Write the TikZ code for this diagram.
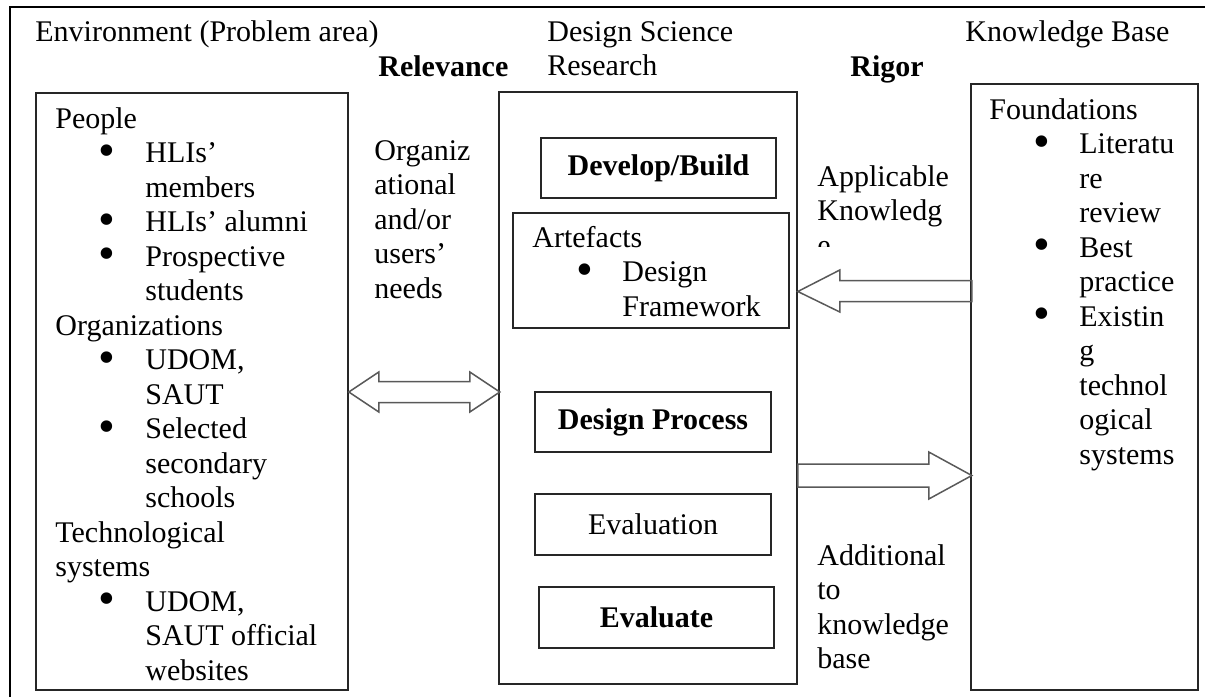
\documentclass[tikz,border=0pt]{standalone}
\usepackage{fontspec}
\usepackage{graphicx}
\setmainfont{Liberation Serif}
\usetikzlibrary{fit}
\newcommand{\itm}[1]{\hspace*{26pt}\makebox[0pt]{\smash{\raisebox{-1.8pt}{\scalebox{1.6}{\textbullet}}}}\hspace*{19pt}#1}
\newcommand{\cnt}[1]{\hspace*{45pt}#1}
\newcommand{\lines}[1]{\begin{tabular}[t]{@{}l@{}}#1\end{tabular}}
\tikzset{
box/.style={draw=black!85, line width=.8pt, inner sep=0pt},
blk/.style={draw=black!65, line width=.75pt, line join=miter},
txt/.style={anchor=base west, inner sep=0pt, font=\fontsize{15}{17.25}\selectfont},
btxt/.style={inner sep=0pt, font=\fontsize{15}{17.25}\selectfont\bfseries}
}
\begin{document}
\begin{tikzpicture}[x=0.5pt, y=-0.5pt]
\useasboundingbox (0,0) rectangle (1205,697);
\draw[line width=1.25pt] (10,697)--(10,7)--(1205,7);
\node[txt] (envt) at (35,41) {Environment (Problem area)};
\node[txt] (dsrt) at (547,41) {\lines{Design Science\\Research}};
\node[txt] (kbt) at (965,41) {Knowledge Base};
\node[txt] (rel) at (378,76) {\textbf{Relevance}};
\node[txt] (rig) at (850,76) {\textbf{Rigor}};
\node[box, fit={(36,93) (348,690)}] (env) {};
\node[box, fit={(499,92) (797,684)}] (dsr) {};
\node[box, fit={(971,84) (1198,690)}] (kb) {};
\node[box, fit={(541,138) (776,198)}] (dev) {};
\node[box, fit={(513,213) (789,328)}] (art) {};
\node[box, fit={(535,392) (771,452)}] (dp) {};
\node[box, fit={(535,494) (771,555)}] (evn) {};
\node[box, fit={(539,587) (774,648)}] (evt) {};
\node[btxt] (devt) at (dev.center) {Develop/Build};
\node[btxt] (dpt) at (dp.center) {Design Process};
\node[btxt, font=\fontsize{15}{17.25}\selectfont] (evnt) at (evn.center) {Evaluation};
\node[btxt] (evtt) at (evt.center) {Evaluate};
\node[txt] (artt) at (532,247) {\lines{Artefacts\\\itm{Design}\\\cnt{Framework}}};
\node[txt] (envl) at (55,128) {\lines{People\\\itm{HLIs’}\\\cnt{members}\\\itm{HLIs’ alumni}\\\itm{Prospective}\\\cnt{students}\\Organizations\\\itm{UDOM,}\\\cnt{SAUT}\\\itm{Selected}\\\cnt{secondary}\\\cnt{schools}\\Technological\\systems\\\itm{UDOM,}\\\cnt{SAUT official}\\\cnt{websites}}};
\node[txt] (kbl) at (989,119) {\lines{Foundations\\\itm{Literatu}\\\cnt{re}\\\cnt{review}\\\itm{Best}\\\cnt{practice}\\\itm{Existin}\\\cnt{g}\\\cnt{technol}\\\cnt{ogical}\\\cnt{systems}}};
\node[txt] (needs) at (374,160) {\lines{Organiz\\ational\\and/or\\users’\\needs}};
\node[txt] (appl) at (817,186) {\lines{Applicable\\Knowledg}};
\begin{scope}
\clip (810,225) rectangle (900,246);
\node[txt] (appe) at (817,255.5) {e};
\end{scope}
\node[txt] (addk) at (817,565) {\lines{Additional\\to\\knowledge\\base}};
\draw[blk] (env.east |- 0,392) -- ++(30,-20) -- ++(0,9.5) -- ++(91,0) -- ++(0,-9.5) -- ++(30,20) -- ++(-30,20) -- ++(0,-9.5) -- ++(-91,0) -- ++(0,9.5) -- cycle;
\draw[blk] (dsr.east |- 0,291.5) -- ++(42,-21.5) -- ++(0,10.5) -- ++(132,0) -- ++(0,21) -- ++(-132,0) -- ++(0,10.5) -- cycle;
\draw[blk] (dsr.east |- 0,464) -- ++(131,0) -- ++(0,-12) -- ++(43,23.5) -- ++(-43,23.5) -- ++(0,-12) -- ++(-131,0) -- cycle;
\end{tikzpicture}
\end{document}
